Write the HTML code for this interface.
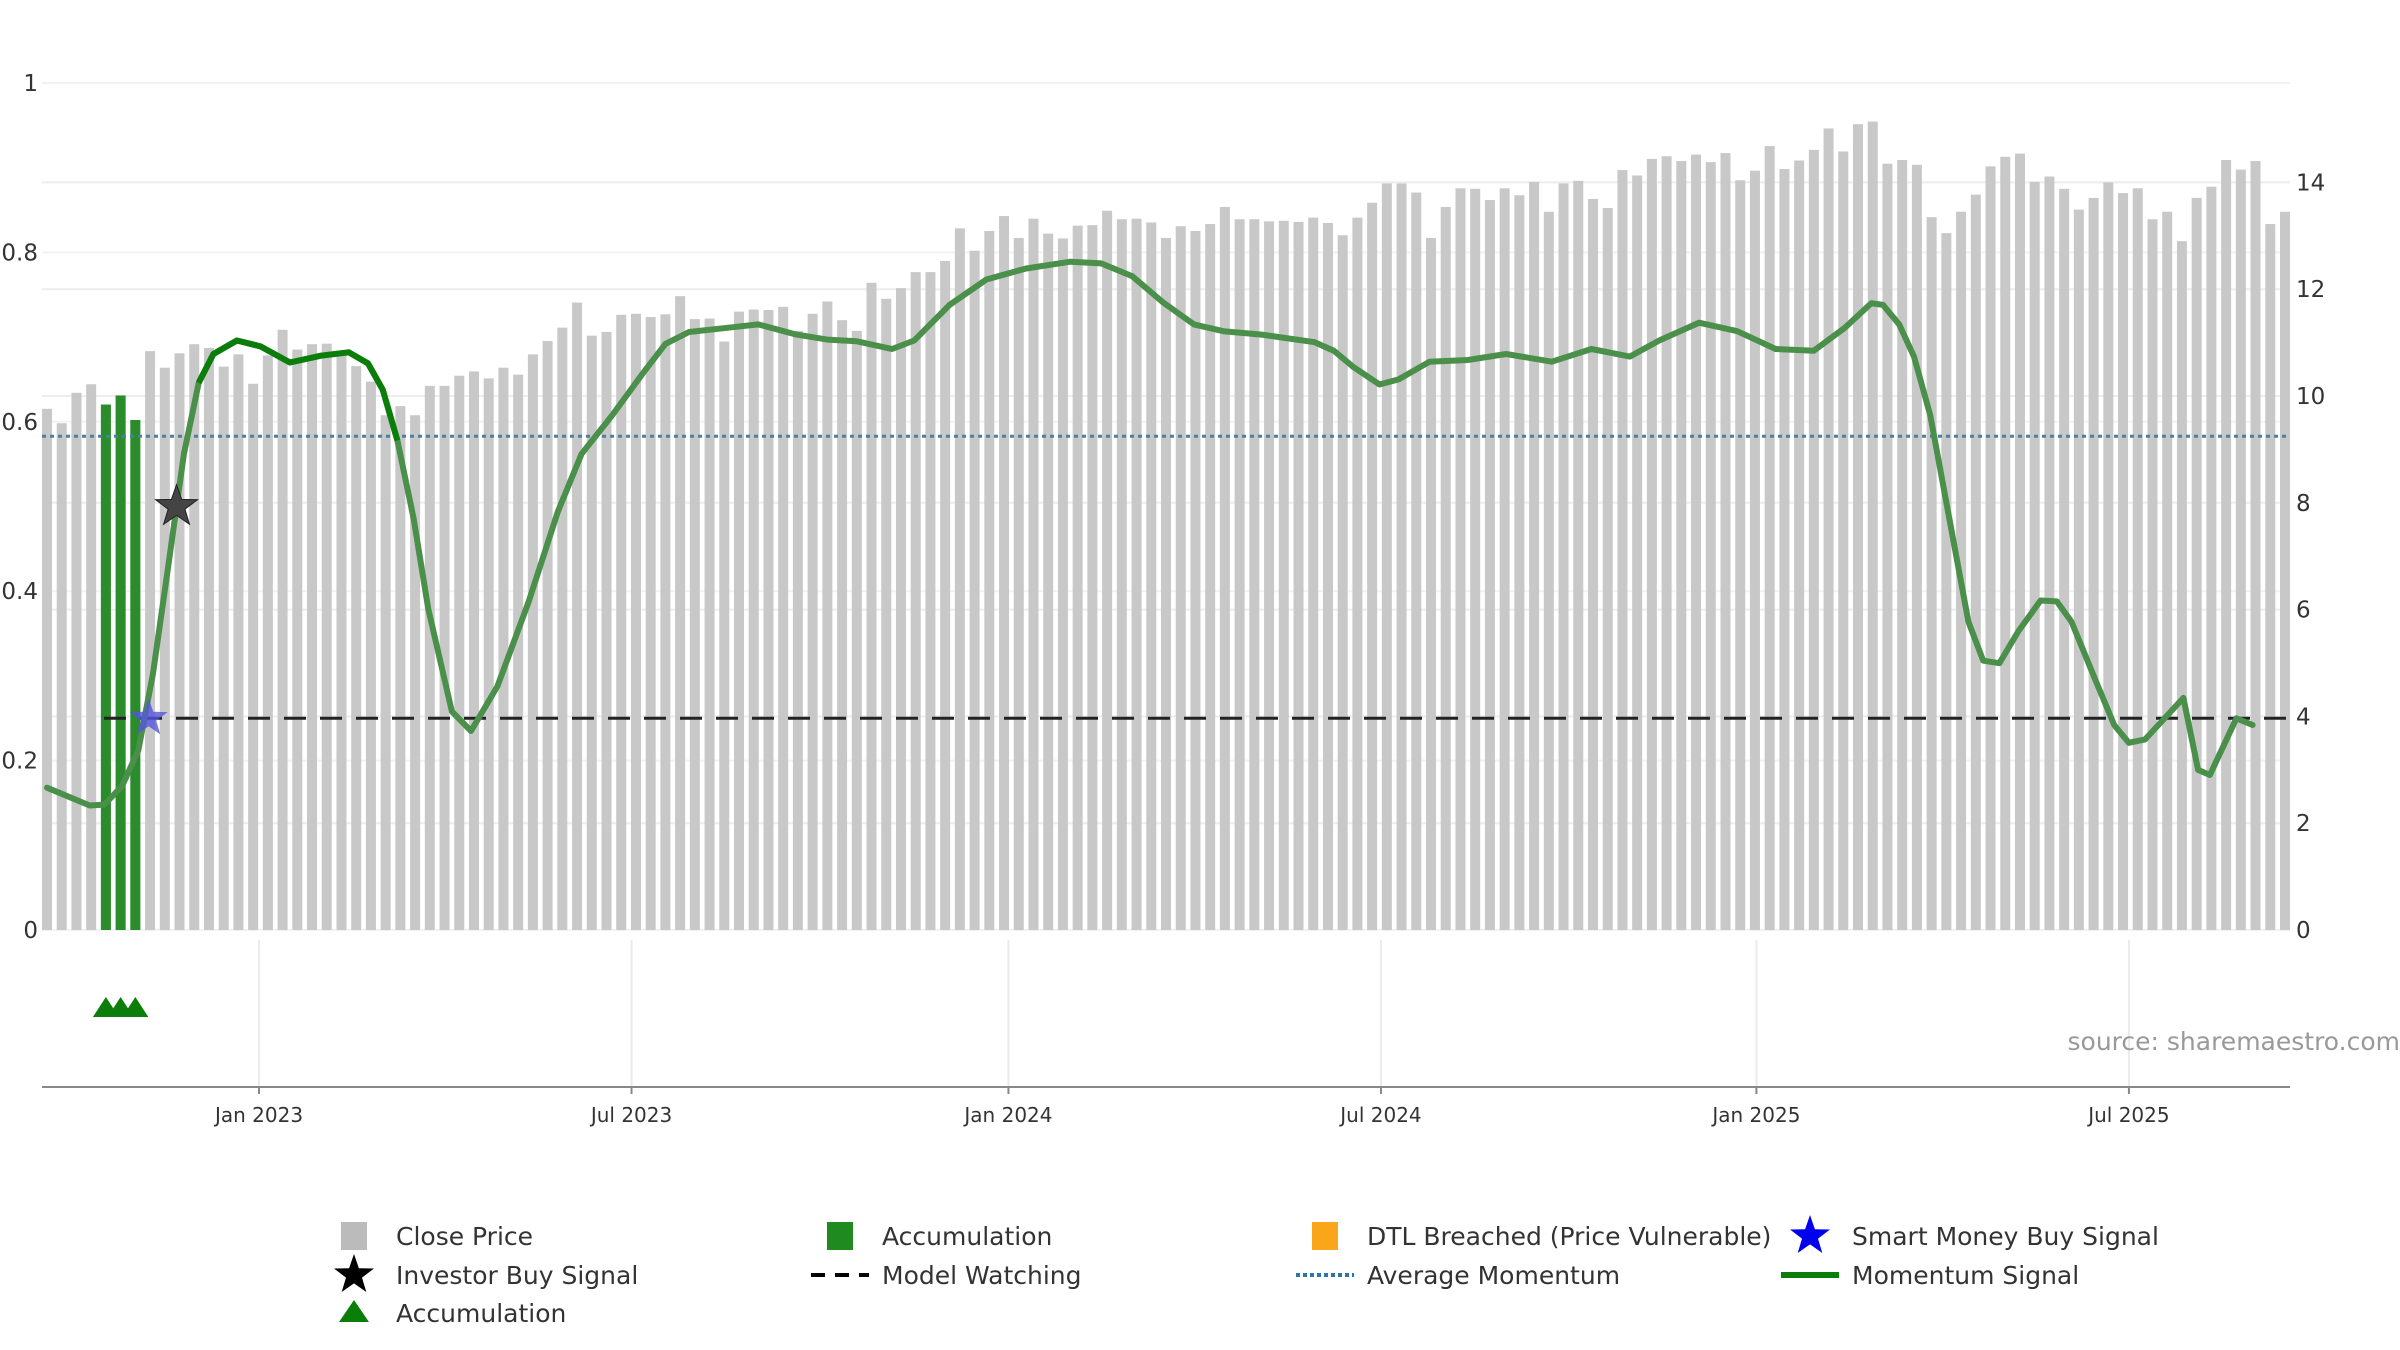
<!DOCTYPE html>
<html><head><meta charset="utf-8">
<style>
html,body{margin:0;padding:0;background:#fff;}
svg{display:block;font-family:"DejaVu Sans","Liberation Sans",sans-serif;}
</style></head>
<body>
<svg id="chart" width="2400" height="1350" viewBox="0 0 2400 1350" xmlns="http://www.w3.org/2000/svg">
<g id="grid"></g>
<g id="bars"></g>
<g id="lines"></g>
<g id="marks"></g>
<g id="axes"></g>
<text x="2400" y="1050" text-anchor="end" font-size="25" fill="#999">source: sharemaestro.com</text>
<g id="legend"></g>
</svg>
<script>
// ---- data ----
const closePrice = [9.76,9.49,10.06,10.22,9.84,10.01,9.55,10.84,10.53,10.80,10.97,10.90,10.55,10.78,10.23,10.76,11.24,10.87,10.97,10.98,10.79,10.56,10.27,9.64,9.81,9.64,10.19,10.19,10.38,10.46,10.33,10.53,10.40,10.78,11.03,11.28,11.75,11.13,11.20,11.52,11.54,11.48,11.53,11.87,11.44,11.45,11.02,11.58,11.62,11.61,11.67,11.22,11.54,11.77,11.42,11.22,12.12,11.82,12.02,12.32,12.32,12.53,13.14,12.72,13.09,13.37,12.96,13.32,13.04,12.95,13.19,13.20,13.47,13.31,13.32,13.25,12.96,13.18,
13.09,13.22,13.54,13.31,13.31,13.27,13.28,13.26,13.34,13.24,13.01,13.34,13.62,13.98,13.98,13.81,12.96,13.54,13.89,13.88,13.67,13.89,13.76,14.01,13.45,13.98,14.03,13.69,13.52,14.23,14.13,14.44,14.49,14.40,14.52,14.38,14.55,14.04,14.22,14.68,14.25,14.41,14.61,15.01,14.58,15.09,15.14,14.35,14.42,14.33,13.35,13.05,13.45,13.77,14.30,14.48,14.54,14.01,14.11,13.88,13.49,13.71,14.00,13.80,13.89,13.31,13.45,12.90,13.71,13.92,14.42,14.24,14.40,13.22,13.45];
const accumIdx = [4,5,6];
const momIdx = [0,2.9,3.9,5.1,6.2,7.2,8.2,9.3,10.3,11.3,12.9,14.5,16.5,18.6,20.5,21.8,22.8,23.8,24.9,25.9,27.5,28.8,30.6,32.7,34.7,36.3,38.4,40.5,42.0,43.6,46.2,48.3,50.9,53.0,55.0,57.4,58.9,61.3,63.8,66.5,69.5,71.6,73.7,75.8,77.9,79.9,82.5,86.1,87.4,88.7,90.5,91.8,93.9,96.5,99.1,102.2,104.9,107.5,109.5,112.2,114.8,117.4,120.0,122.1,123.9,124.7,125.8,126.8,127.9,129.2,130.5,131.5,132.6,133.9,135.4,136.5,137.5,139.1,140.4,141.4,142.5,145.1,146.1,146.9,148.7,149.8];
const momVal = [0.168,0.147,0.148,0.170,0.212,0.303,0.425,0.562,0.646,0.680,0.696,0.689,0.670,0.678,0.682,0.669,0.638,0.578,0.486,0.379,0.258,0.235,0.288,0.387,0.494,0.562,0.608,0.658,0.692,0.706,0.711,0.715,0.703,0.697,0.695,0.686,0.696,0.738,0.768,0.781,0.789,0.787,0.772,0.741,0.715,0.707,0.703,0.694,0.684,0.665,0.644,0.650,0.671,0.673,0.680,0.671,0.686,0.677,0.696,0.717,0.707,0.686,0.684,0.711,0.740,0.738,0.715,0.677,0.608,0.486,0.364,0.318,0.315,0.353,0.389,0.388,0.364,0.296,0.242,0.221,0.225,0.274,0.189,0.183,0.250,0.242];
const avgMomentum = 0.583;
const modelWatching = 0.25;
const investorBuy = {idx:8.8, val:0.50};
const smartMoneyBuy = {idx:6.9, val:0.25};
const leftTicks = [0,0.2,0.4,0.6,0.8,1];
const leftTickLabels = ["0","0.2","0.4","0.6","0.8","1"];
const rightTicks = [0,2,4,6,8,10,12,14];
const xTickIdx = [14.4,39.7,65.3,90.6,116.1,141.4];
const xTickLabels = ["Jan 2023","Jul 2023","Jan 2024","Jul 2024","Jan 2025","Jul 2025"];

// ---- scales ----
const NS="http://www.w3.org/2000/svg";
const X0=47, STEP=(2285-47)/(closePrice.length-1);
const x = i => X0 + i*STEP;
const yL = v => 930 - v*847;
const yR = v => 930 - v*53.4;
function mk(tag, attrs, parent){const e=document.createElementNS(NS,tag);for(const k in attrs)e.setAttribute(k,attrs[k]);parent.appendChild(e);return e;}
const G=id=>document.getElementById(id);

rightTicks.forEach(t=>{
  const l=mk('line',{x1:42,x2:2290,y1:yR(t),y2:yR(t),stroke:'#ececf2','stroke-width':2},G('grid'));
  
  
});
leftTicks.forEach(t=>{
  const l=mk('line',{x1:42,x2:2290,y1:yL(t),y2:yL(t),stroke:'#f2f2f5','stroke-width':2},G('grid'));
  
  
});
xTickIdx.forEach(t=>{
  const l=mk('line',{x1:x(t),x2:x(t),y1:940,y2:1087,stroke:'#ebebeb','stroke-width':2},G('grid'));
  
  
});

closePrice.forEach((v,i)=>{
  const b=mk('rect',{x:x(i)-5,y:yR(v),width:10,height:930-yR(v),fill:'#c8c8c8'},G('bars'));
  
  
});
accumIdx.forEach(i=>{
  const v=closePrice[i];
  const b=mk('rect',{x:x(i)-5,y:yR(v),width:10,height:930-yR(v),fill:'#2a8c2a'},G('bars'));
  
  
});

const am=mk('line',{x1:42,x2:2290,y1:yL(avgMomentum),y2:yL(avgMomentum),stroke:'#4f7fa0','stroke-width':3,'stroke-dasharray':'4 4'},G('lines'));


const mw=mk('line',{x1:104,x2:2290,y1:yL(modelWatching),y2:yL(modelWatching),stroke:'#222','stroke-width':3,'stroke-dasharray':'22 14'},G('lines'));


const pts=momIdx.map((t,k)=>x(t).toFixed(1)+','+yL(momVal[k]).toFixed(1)).join(' ');
const ml=mk('polyline',{points:pts,fill:'none',stroke:'#4a8f4a','stroke-width':6,'stroke-linejoin':'round','stroke-linecap':'round'},G('lines'));


const darkPts=momIdx.map((t,k)=>[t,momVal[k]]).filter(p=>p[0]>=10.3&&p[0]<=23.8).map(p=>x(p[0]).toFixed(1)+','+yL(p[1]).toFixed(1)).join(' ');
const md=mk('polyline',{points:darkPts,fill:'none',stroke:'#0a7d0a','stroke-width':6,'stroke-linejoin':'round'},G('lines'));



function star(cx,cy,r){let p=[];for(let k=0;k<10;k++){const a=-Math.PI/2+k*Math.PI/5;const rr=k%2?r*0.4:r;p.push((cx+rr*Math.cos(a)).toFixed(1)+','+(cy+rr*Math.sin(a)).toFixed(1));}return p.join(' ');}
const s1=mk('polygon',{points:star(x(investorBuy.idx),yL(investorBuy.val),22),fill:'#444',stroke:'#222','stroke-width':1},G('marks'));


const s2=mk('polygon',{points:star(x(smartMoneyBuy.idx),yL(smartMoneyBuy.val),20),fill:'#5555dd','fill-opacity':0.8},G('marks'));


accumIdx.forEach(i=>{
  const cx=x(i);
  const t=mk('polygon',{points:`${cx-13},1017 ${cx},997 ${cx+13},1017`,fill:'#0a7d0a'},G('marks'));
  
  
});

const ax=G('axes');
const xl=mk('line',{x1:42,x2:2290,y1:1087,y2:1087,stroke:'#888','stroke-width':2},ax);


leftTicks.forEach((t,k)=>{
  const e=mk('text',{x:38,y:yL(t)+8,'text-anchor':'end','font-size':23,fill:'#333'},ax);
  e.textContent=leftTickLabels[k];
  
  
});
rightTicks.forEach(t=>{
  const e=mk('text',{x:2296,y:yR(t)+8,'font-size':23,fill:'#333'},ax);
  e.textContent=String(t);
  
  
});
xTickIdx.forEach((t,k)=>{
  const tk=mk('line',{x1:x(t),x2:x(t),y1:1087,y2:1094,stroke:'#888','stroke-width':2},ax);
  
  
  const e=mk('text',{x:x(t),y:1122,'text-anchor':'middle','font-size':20,fill:'#333'},ax);
  e.textContent=xTickLabels[k];
  
  
});

const lg=G('legend');
const items=[
 [354,1236,'rect','#bbb','Close Price'],[840,1236,'rect','#1f8a1f','Accumulation'],[1325,1236,'rect','#f9a61a','DTL Breached (Price Vulnerable)'],[1810,1236,'bstar','#0000ee','Smart Money Buy Signal'],
 [354,1275,'kstar','#000','Investor Buy Signal'],[840,1275,'dash','#000','Model Watching'],[1325,1275,'dot','#2f75a8','Average Momentum'],[1810,1275,'line','#0a7d0a','Momentum Signal'],
 [354,1313,'tri','#0a7d0a','Accumulation']];
items.forEach(it=>{
  const [cx,cy,kind,col,label]=it;
  let icon;
  if(kind==='rect') icon=mk('rect',{x:cx-13,y:cy-14,width:26,height:28,fill:col},lg);
  else if(kind==='bstar'||kind==='kstar') icon=mk('polygon',{points:star(cx,cy,21),fill:col},lg);
  else if(kind==='dash') icon=mk('line',{x1:cx-29,x2:cx+29,y1:cy,y2:cy,stroke:col,'stroke-width':4,'stroke-dasharray':'14 10'},lg);
  else if(kind==='dot') icon=mk('line',{x1:cx-29,x2:cx+29,y1:cy,y2:cy,stroke:col,'stroke-width':4,'stroke-dasharray':'4 3'},lg);
  else if(kind==='line') icon=mk('line',{x1:cx-29,x2:cx+29,y1:cy,y2:cy,stroke:col,'stroke-width':6},lg);
  else icon=mk('polygon',{points:`${cx-15},${cy+9} ${cx},${cy-13} ${cx+15},${cy+9}`,fill:col},lg);
  
  
  const t=mk('text',{x:cx+42,y:cy+9,'font-size':25,fill:'#333'},lg);
  t.textContent=label;
  
  
});
</script>
</body></html>
